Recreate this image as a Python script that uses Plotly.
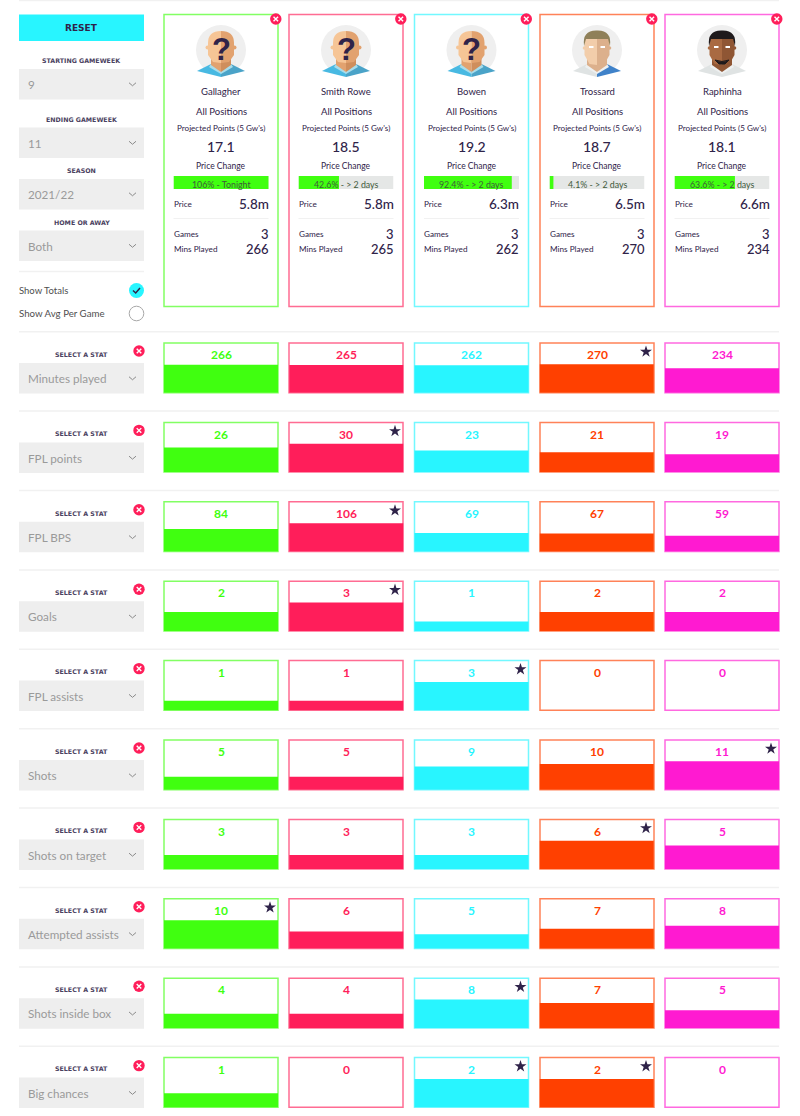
import plotly.graph_objects as go

# -------------------------------
# Data
# -------------------------------
players = ["Gallagher", "Smith Rowe", "Bowen", "Trossard", "Raphinha"]
projected = ["17.1", "18.5", "19.2", "18.7", "18.1"]
price_change = [106, 42.6, 92.4, 4.1, 63.6]
price_change_when = ["Tonight", "> 2 days", "> 2 days", "> 2 days", "> 2 days"]
prices = ["5.8m", "5.8m", "6.3m", "6.5m", "6.6m"]
games = [3, 3, 3, 3, 3]
mins_played = [266, 265, 262, 270, 234]

stat_names = ["Minutes played", "FPL points", "FPL BPS", "Goals", "FPL assists",
              "Shots", "Shots on target", "Attempted assists", "Shots inside box", "Big chances"]
minutes = [266, 265, 262, 270, 234]
fpl_points = [26, 30, 23, 21, 19]
fpl_bps = [84, 106, 69, 67, 59]
goals = [2, 3, 1, 2, 2]
assists = [1, 1, 3, 0, 0]
shots = [5, 5, 9, 10, 11]
shots_on_target = [3, 3, 3, 6, 5]
attempted_assists = [10, 6, 5, 7, 8]
shots_in_box = [4, 4, 8, 7, 5]
big_chances = [1, 0, 2, 2, 0]
stat_rows = [minutes, fpl_points, fpl_bps, goals, assists, shots, shots_on_target,
             attempted_assists, shots_in_box, big_chances]

filters = [("STARTING GAMEWEEK", "9"), ("ENDING GAMEWEEK", "11"),
           ("SEASON", "2021/22"), ("HOME OR AWAY", "Both")]

colors = ["#40ff10", "#ff1e5a", "#28f5ff", "#ff4000", "#ff1ad1"]

# -------------------------------
# Page layout (pixels)
# -------------------------------
W, H = 800, 1116
FONT = "Lato"
DARK = "#2f2349"
GREY = "#9a9a9a"
CYAN = "#28f5ff"
RED = "#ff1e5a"
LINE = "#f1f1f1"
card_left = [164, 289, 414.5, 540, 665]
card_w = 114
row_top = [343 + 79.4 * i for i in range(10)]
row_h = 49.7
# fullest bar fills 57% of its box
FILL = 0.57

shapes = []
notes = []


def rect(x0, y0, x1, y1, fill=None, line=None, lw=1.5, opacity=1):
    shapes.append(dict(type="rect", xref="x20", yref="y20", x0=x0, y0=y0, x1=x1, y1=y1,
                       fillcolor=fill or "rgba(0,0,0,0)", opacity=opacity,
                       line=dict(color=line or "rgba(0,0,0,0)", width=lw if line else 0)))


def circle(cx, cy, r, fill=None, line=None, lw=1.2):
    shapes.append(dict(type="circle", xref="x20", yref="y20", x0=cx - r, y0=cy - r, x1=cx + r, y1=cy + r,
                       fillcolor=fill or "rgba(0,0,0,0)",
                       line=dict(color=line or "rgba(0,0,0,0)", width=lw if line else 0)))


def path(d, fill=None, line=None, lw=1):
    shapes.append(dict(type="path", xref="x20", yref="y20", path=d,
                       fillcolor=fill or "rgba(0,0,0,0)",
                       line=dict(color=line or "rgba(0,0,0,0)", width=lw if line else 0)))


def text(x, y, s, size=9, color=DARK, align="center", weight=400, font=FONT):
    notes.append(dict(xref="x20", yref="y20", x=x, y=y, text=s, showarrow=False,
                      xanchor=align, yanchor="middle", borderpad=0, borderwidth=0,
                      font=dict(family=font, size=size, color=color, weight=weight)))


def close_icon(cx, cy, r=5.7):
    circle(cx, cy, r, fill=RED)
    d = r * 0.4
    path(f"M{cx-d},{cy-d} L{cx+d},{cy+d} M{cx-d},{cy+d} L{cx+d},{cy-d}", line="white", lw=1.4)


def dropdown(y0, y1, label):
    rect(19, y0, 144, y1, fill="#eeeeee")
    text(28, (y0 + y1) / 2, label, size=11.7, color=GREY, align="left")
    cy = (y0 + y1) / 2
    path(f"M129,{cy-1.5} L132.5,{cy+1.5} L136,{cy-1.5}", line="#8a8a8a", lw=1)


def bust(cx, left, right, collar):
    path(f"M{cx-24},71 L{cx-8},63 L{cx},71 L{cx},77 Z", fill=left)
    path(f"M{cx+24},71 L{cx+8},63 L{cx},71 L{cx},77 Z", fill=right)
    path(f"M{cx-8},63 L{cx},71 L{cx},74 L{cx-12},67 L{cx-10},64 Z", fill=collar)
    path(f"M{cx+8},63 L{cx},71 L{cx},74 L{cx+12},67 L{cx+10},64 Z", fill=collar)


def head_halves(cx, hw, top, jaw, chin, light, dark, neck_light, neck_dark):
    # neck first, then the face on top of it
    path(f"M{cx-10},{jaw} L{cx-10},65 L{cx},72 L{cx},{jaw} Z", fill=neck_light)
    path(f"M{cx+10},{jaw} L{cx+10},65 L{cx},72 L{cx},{jaw} Z", fill=neck_dark)
    path(f"M{cx},{top} Q{cx-hw},{top} {cx-hw},{top+12} L{cx-hw},{jaw} L{cx-hw+5},{chin} L{cx},{chin+1} Z", fill=light)
    path(f"M{cx},{top} Q{cx+hw},{top} {cx+hw},{top+12} L{cx+hw},{jaw} L{cx+hw-5},{chin} L{cx},{chin+1} Z", fill=dark)


def avatar_unknown(cx):
    circle(cx, 50, 25, fill="#efefef")
    bust(cx, "#48b9e2", "#4aa3c8", "#a8dcea")
    circle(cx - 13.5, 47.5, 2, fill="#f6c596")
    circle(cx + 13.5, 47.5, 2, fill="#e2a26f")
    head_halves(cx, 13, 31, 55, 62, "#f6c596", "#e2a26f", "#e2a26f", "#cf8e5c")
    text(cx, 49, "?", size=31, weight=700, font="Liberation Sans")


def avatar_face(cx, skin, skin_dark, hair, beard, right_shoulder):
    circle(cx, 50, 25, fill="#efefef")
    bust(cx, "#dfe3e3", right_shoulder, "#eef0f0")
    circle(cx - 12.5, 48, 1.8, fill=skin)
    circle(cx + 12.5, 48, 1.8, fill=skin_dark)
    head_halves(cx, 12.5, 33, 55, 64, skin, skin_dark, skin_dark, skin_dark)
    path(f"M{cx-13},46 Q{cx-15},30 {cx},30.5 Q{cx+15},30 {cx+13},46 L{cx+11},39 L{cx-11},39 Z", fill=hair)
    rect(cx - 8, 46, cx - 3.5, 48, fill="white")
    rect(cx + 3.5, 46, cx + 8, 48, fill="white")
    if beard:
        path(f"M{cx-7},60 Q{cx},63 {cx+7},60 L{cx+3},64 L{cx-3},64 Z", fill=beard, line=beard, lw=1)


# -------------------------------
# Left column
# -------------------------------
shapes.append(dict(type="line", xref="x20", yref="y20", x0=19, x1=779, y0=0.5, y1=0.5,
                   line=dict(color=LINE, width=1.5)))
rect(19, 14.5, 144, 41, fill=CYAN)
text(81.5, 27.5, "RESET", size=9, weight=700, font="DejaVu Sans")

filter_tops = [69, 127.5, 179, 230.5]
for (label, value), top in zip(filters, filter_tops):
    text(81.5, top - 8.5, label, size=6.3, weight=700, font="DejaVu Sans", color="#4a4160")
    dropdown(top, top + 30.5, value)

shapes.append(dict(type="line", xref="x20", yref="y20", x0=19, x1=144, y0=271.5, y1=271.5,
                   line=dict(color=LINE, width=1.5)))
text(19, 290, "Show Totals", size=9.5, color="#4f4f4f", align="left")
text(19, 312.5, "Show Avg Per Game", size=9.7, color="#4f4f4f", align="left")
circle(136.5, 290.5, 7.5, fill=CYAN)
path("M133,290.5 L135.7,293 L140,288", line=DARK, lw=1.5)
circle(136.5, 313.5, 7.3, fill="white", line="#a8a8a8", lw=1)

# -------------------------------
# Player cards
# -------------------------------
traces = []
layout_axes = {}
for i, name in enumerate(players):
    left = card_left[i]
    right = left + card_w
    cx = left + card_w / 2
    bar_l, bar_r = left + 9.5, right - 9.5

    rect(left, 14.5, right, 306.5, line=colors[i], lw=1.5, opacity=0.65)
    if i < 3:
        avatar_unknown(cx)
    elif i == 3:
        avatar_face(cx, "#f2cdaa", "#dcb08c", "#8f8059", None, "#3f82c9")
    else:
        avatar_face(cx, "#a96a42", "#8f5634", "#1f1a1c", "#1f1a1c", "#dfe3e3")

    text(cx, 91.5, name, size=9.5)
    text(cx, 111, "All Positions", size=9.5)
    text(cx, 128.3, "Projected Points (5 Gw's)", size=8.1)
    text(cx, 146.5, projected[i], size=14, weight=500)
    text(cx, 166, "Price Change", size=8.5)

    text(cx, 184, f"{price_change[i]:g}% - {price_change_when[i]}", size=8.8, color="#3f5a3c")

    text(bar_l, 203.5, "Price", size=8.2, align="left")
    text(bar_r, 203.5, prices[i], size=13.5, weight=500, align="right")
    shapes.append(dict(type="line", xref="x20", yref="y20", x0=bar_l, x1=bar_r, y0=218.5, y1=218.5,
                       line=dict(color=LINE, width=1)))
    text(bar_l, 233.5, "Games", size=8.2, align="left")
    text(bar_r, 233.5, str(games[i]), size=13, weight=500, align="right")
    text(bar_l, 249, "Mins Played", size=8.2, align="left")
    text(bar_r, 249, str(mins_played[i]), size=13, weight=500, align="right")

    close_icon(right - 2.2, 19)

    # price change bar, on its own small axis, grey track behind it
    axis_id = 30 + i
    layout_axes[f"xaxis{axis_id}"] = dict(domain=[bar_l / W, bar_r / W], range=[0, 100], visible=False,
                                          anchor="y19", fixedrange=True)
    shapes.append(dict(type="rect", xref=f"x{axis_id}", yref="y19", x0=0, x1=100, y0=-0.5, y1=0.5,
                       fillcolor="#e5e7e6", line_width=0, layer="below"))
    traces.append(go.Bar(x=[price_change[i]], y=[0], width=1, orientation="h",
                         xaxis=f"x{axis_id}", yaxis="y19", marker=dict(color=colors[0], line_width=0),
                         hoverinfo="skip"))

layout_axes["yaxis19"] = dict(domain=[1 - 189 / H, 1 - 176 / H], range=[-0.5, 0.5], visible=False,
                              anchor="x30", fixedrange=True)

# -------------------------------
# Stat rows
# -------------------------------
pitch = (card_left[4] - card_left[0]) / 4
x_left = card_left[0] + card_w / 2 - pitch / 2
x_right = card_left[4] + card_w / 2 + pitch / 2
layout_axes["xaxis"] = dict(domain=[x_left / W, x_right / W], type="category",
                            categoryorder="array", categoryarray=players,
                            visible=False, fixedrange=True)

star_x, star_y = [], []
for r, (stat, values) in enumerate(zip(stat_names, stat_rows)):
    top = row_top[r]
    sep = top - 11.3
    shapes.append(dict(type="line", xref="x20", yref="y20", x0=19, x1=779, y0=sep, y1=sep,
                       line=dict(color=LINE, width=1.5)))

    text(81.5, top + 11.3, "SELECT A STAT", size=6.3, weight=700, font="DejaVu Sans", color="#4a4160")
    close_icon(139, top + 8)
    dropdown(top + 20, top + 50.5, stat)

    axis_id = "" if r == 0 else str(r + 1)
    layout_axes[f"yaxis{axis_id}"] = dict(domain=[1 - (top + row_h) / H, 1 - top / H],
                                          range=[0, max(values) / FILL], visible=False,
                                          anchor="x", fixedrange=True)
    traces.append(go.Bar(x=players, y=values, xaxis="x", yaxis=f"y{axis_id}",
                         marker=dict(color=colors, line_width=0), hoverinfo="skip"))

    for i, v in enumerate(values):
        left = card_left[i]
        rect(left, top, left + card_w, top + row_h, line=colors[i], lw=1.5, opacity=0.65)
        text(left + card_w / 2, top + 11.7, str(v), size=12, color=colors[i], weight=700)
        if v == max(values):
            star_x.append(left + card_w - 8)
            star_y.append(top + 8.7)

traces.append(go.Scatter(x=star_x, y=star_y, mode="markers", xaxis="x20", yaxis="y20",
                         marker=dict(symbol="star", size=9, color=DARK, line_width=0),
                         hoverinfo="skip"))

fig = go.Figure(data=traces)
fig.update_layout(
    width=W,
    height=H,
    margin=dict(l=0, r=0, t=0, b=0),
    paper_bgcolor="white",
    plot_bgcolor="rgba(0,0,0,0)",
    showlegend=False,
    barmode="overlay",
    bargap=0.09,
    shapes=shapes,
    annotations=notes,
    xaxis20=dict(domain=[0, 1], range=[0, W], visible=False, anchor="y20", fixedrange=True),
    yaxis20=dict(domain=[0, 1], range=[H, 0], visible=False, anchor="x20", fixedrange=True),
    **layout_axes,
)

fig.write_html("out.html", post_script="document.body.style.margin='0';", config={"displayModeBar": False})
